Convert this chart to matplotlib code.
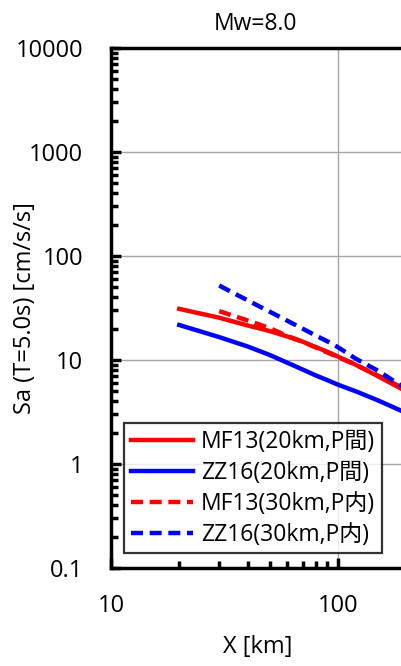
import numpy as np
import matplotlib.pyplot as plt
from matplotlib.ticker import LogLocator, NullFormatter, FixedLocator

plt.rcParams['font.family'] = ['Open Sans', 'Noto Sans CJK JP', 'DejaVu Sans']

# distances [km]
x20 = [20, 30, 40, 50, 60, 70, 80, 90, 100, 120, 150, 200]
x30 = [30, 40, 50, 60, 70, 80, 90, 100, 120, 150, 200]

# Sa values [cm/s/s]
mf13_20 = [31, 25.5, 21.5, 19, 16.8, 15, 13.3, 12, 10.8, 9, 7.0, 5.0]
zz16_20 = [21.7, 16.6, 13.5, 11.2, 9.4, 8.1, 7.1, 6.4, 5.8, 5.0, 4.1, 3.1]
mf13_30 = [29.5, 24, 20.3, 17, 15, 13.2, 11.8, 10.7, 9, 7.1, 5.2]
zz16_30 = [52, 37.5, 29.2, 23.8, 20, 17.2, 15.1, 13.3, 10.3, 7.9, 5.3]

labels = ['MF13(20km,P間)', 'ZZ16(20km,P間)', 'MF13(30km,P内)', 'ZZ16(30km,P内)']

fig = plt.figure(figsize=(4.01, 6.66), dpi=100)
ax = fig.add_axes([111/401, 98/666, 290/401, 520/666])

dash = (0, (2.7, 1.5))
ax.plot(x20, mf13_20, color='#ff0000', lw=3.2, label=labels[0])
ax.plot(x20, zz16_20, color='#0000ff', lw=3.2, label=labels[1])
ax.plot(x30, mf13_30, color='#ff0000', lw=3.2, ls=dash, label=labels[2])
ax.plot(x30, zz16_30, color='#0000ff', lw=3.2, ls=dash, label=labels[3])

ax.set_xscale('log')
ax.set_yscale('log')
ax.set_xlim(10, 190)
ax.set_ylim(0.1, 10000)

ax.yaxis.set_major_locator(FixedLocator([0.1, 1, 10, 100, 1000, 10000]))
ax.set_yticklabels(['0.1', '1', '10', '100', '1000', '10000'])
ax.xaxis.set_major_locator(FixedLocator([10, 100]))
ax.set_xticklabels(['10', '100'])
ax.yaxis.set_minor_locator(LogLocator(base=10, subs=np.arange(2, 10), numticks=20))
ax.xaxis.set_minor_locator(LogLocator(base=10, subs=np.arange(2, 10), numticks=20))
ax.xaxis.set_minor_formatter(NullFormatter())
ax.yaxis.set_minor_formatter(NullFormatter())

ax.tick_params(which='both', direction='in', width=2.5, labelsize=17)
ax.tick_params(which='major', length=7)
ax.tick_params(axis='y', which='major', pad=20)
ax.tick_params(axis='x', which='major', pad=19)
ax.tick_params(which='minor', length=5)
ax.grid(True, which='major', color='#a6a6a6', lw=1)

for side in ['left', 'bottom', 'top']:
    ax.spines[side].set_linewidth(2.5)
ax.spines['right'].set_visible(False)

ax.set_title('Mw=8.0', fontsize=16.5, pad=13)
ax.set_xlabel('X [km]', fontsize=17)
ax.xaxis.set_label_coords(0.507, -0.128)
ax.set_ylabel('Sa (T=5.0s) [cm/s/s]', fontsize=17)
ax.yaxis.set_label_coords(-0.255, 0.5)

leg = ax.legend(loc='lower left', bbox_to_anchor=(0.045, 0.028), fontsize=16.5,
                frameon=True, fancybox=False, edgecolor='black',
                handlelength=2.7, labelspacing=0.3, borderpad=0.3,
                handletextpad=0.35, borderaxespad=0)
leg.get_frame().set_linewidth(1.6)

fig.savefig('out.png', dpi=100)
